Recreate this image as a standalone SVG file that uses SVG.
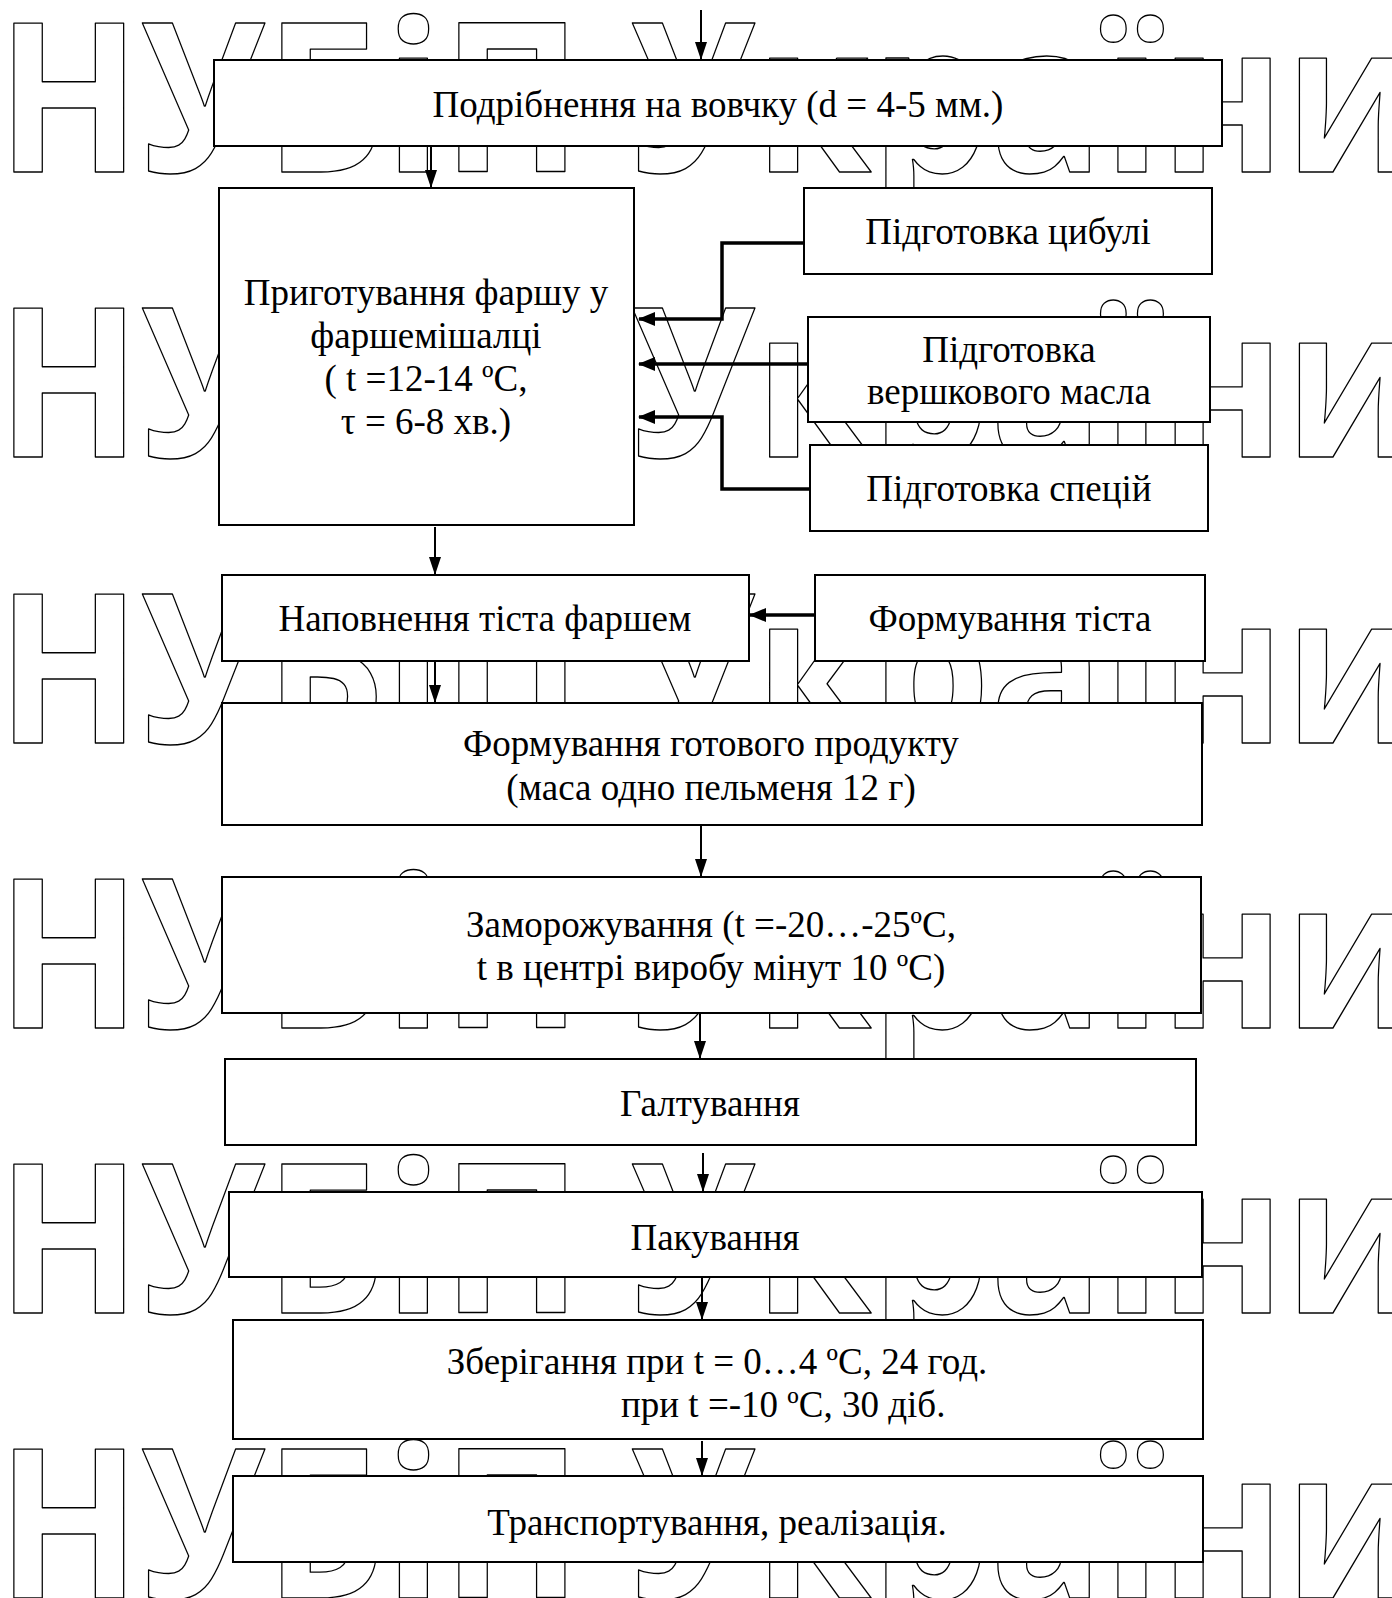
<svg xmlns="http://www.w3.org/2000/svg" width="1392" height="1598" viewBox="0 0 1392 1598">
<style>
.wm{font-family:"Open Sans","DejaVu Sans",sans-serif;font-weight:700;font-size:208px;fill:none;stroke:#000;stroke-width:1.4;stroke-linejoin:round}
.box{fill:#fff;stroke:#000;stroke-width:2}
.t{font-family:"Liberation Serif","Times New Roman",serif;font-size:37px;fill:#000;text-anchor:middle}
.thin{fill:none;stroke:#000;stroke-width:2}
.thick{fill:none;stroke:#000;stroke-width:3.5}
</style>
<defs>
<marker id="ah" markerUnits="userSpaceOnUse" markerWidth="18" markerHeight="12" refX="18" refY="6" orient="auto" viewBox="0 0 18 12" overflow="visible"><path d="M0,0 L18,6 L0,12 Z" fill="#000"/></marker>
<marker id="ahk" markerUnits="userSpaceOnUse" markerWidth="17" markerHeight="14" refX="16" refY="7" orient="auto" viewBox="0 0 17 14" overflow="visible"><path d="M0,0 L17,7 L0,14 Z" fill="#000"/></marker>
</defs>
<g id="watermark">
<text class="wm" x="-3" y="172" textLength="1423" lengthAdjust="spacingAndGlyphs">НУБіП України</text>
<text class="wm" x="-3" y="457" textLength="1423" lengthAdjust="spacingAndGlyphs">НУБіП України</text>
<text class="wm" x="-3" y="743" textLength="1423" lengthAdjust="spacingAndGlyphs">НУБіП України</text>
<text class="wm" x="-3" y="1028" textLength="1423" lengthAdjust="spacingAndGlyphs">НУБіП України</text>
<text class="wm" x="-3" y="1313" textLength="1423" lengthAdjust="spacingAndGlyphs">НУБіП України</text>
<text class="wm" x="-3" y="1598" textLength="1423" lengthAdjust="spacingAndGlyphs">НУБіП України</text>
</g>
<g id="n1"><rect class="box" x="214" y="60" width="1008" height="86"/><text class="t" x="718" y="117">Подрібнення на вовчку (d = 4-5 мм.)</text></g>
<g id="n2"><rect class="box" x="219" y="188" width="415" height="337"/>
<text class="t" x="426" y="305">Приготування фаршу у</text>
<text class="t" x="426" y="348">фаршемішалці</text>
<text class="t" x="426" y="391">( t =12-14 ºC,</text>
<text class="t" x="426" y="434">τ = 6-8 хв.)</text></g>
<g id="n3"><rect class="box" x="804" y="188" width="408" height="86"/><text class="t" x="1008" y="244">Підготовка цибулі</text></g>
<g id="n4"><rect class="box" x="808" y="317" width="402" height="105"/><text class="t" x="1009" y="362">Підготовка</text><text class="t" x="1009" y="404">вершкового масла</text></g>
<g id="n5"><rect class="box" x="810" y="445" width="398" height="86"/><text class="t" x="1009" y="501">Підготовка спецій</text></g>
<g id="n6"><rect class="box" x="222" y="575" width="527" height="86"/><text class="t" x="485" y="631">Наповнення тіста фаршем</text></g>
<g id="n7"><rect class="box" x="815" y="575" width="390" height="86"/><text class="t" x="1010" y="631">Формування тіста</text></g>
<g id="n8"><rect class="box" x="222" y="703" width="980" height="122"/><text class="t" x="711" y="756">Формування готового продукту</text><text class="t" x="711" y="800">(маса одно пельменя 12 г)</text></g>
<g id="n9"><rect class="box" x="222" y="877" width="979" height="136"/><text class="t" x="711" y="937">Заморожування (t =-20…-25ºC,</text><text class="t" x="711" y="980">t в центрі виробу мінут 10 ºC)</text></g>
<g id="n10"><rect class="box" x="225" y="1059" width="971" height="86"/><text class="t" x="710" y="1116">Галтування</text></g>
<g id="n11"><rect class="box" x="229" y="1192" width="973" height="85"/><text class="t" x="715" y="1250">Пакування</text></g>
<g id="n12"><rect class="box" x="233" y="1320" width="970" height="119"/><text class="t" x="717" y="1374">Зберігання при t = 0…4 ºC, 24 год.</text><text class="t" x="621" y="1417" style="text-anchor:start">при t =-10 ºC, 30 діб.</text></g>
<g id="n13"><rect class="box" x="233" y="1476" width="970" height="86"/><text class="t" x="717" y="1535">Транспортування, реалізація.</text></g>
<g id="connectors">
<path class="thin" d="M701,10 V60" marker-end="url(#ah)"/>
<path class="thin" d="M431,146 V188" marker-end="url(#ah)"/>
<path class="thick" d="M804,243 H722 V319 H639" marker-end="url(#ahk)"/>
<path class="thick" d="M808,364 H639" marker-end="url(#ahk)"/>
<path class="thick" d="M810,489 H722 V417 H639" marker-end="url(#ahk)"/>
<path class="thin" d="M435,527 V575" marker-end="url(#ah)"/>
<path class="thick" d="M815,615 H750" marker-end="url(#ahk)"/>
<path class="thin" d="M435,661 V703" marker-end="url(#ah)"/>
<path class="thin" d="M701,825 V877" marker-end="url(#ah)"/>
<path class="thin" d="M700,1013 V1059" marker-end="url(#ah)"/>
<path class="thin" d="M703,1153 V1192" marker-end="url(#ah)"/>
<path class="thin" d="M702,1277 V1320" marker-end="url(#ah)"/>
<path class="thin" d="M702,1441 V1476" marker-end="url(#ah)"/>
</g>
</svg>
